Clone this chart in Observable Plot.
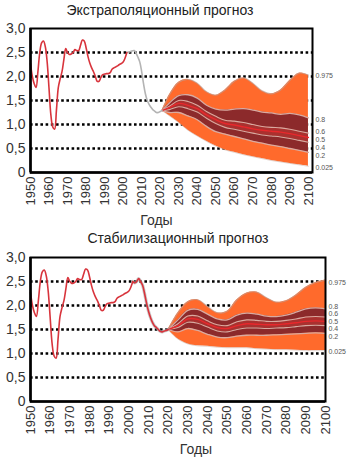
<!DOCTYPE html>
<html><head><meta charset="utf-8">
<script src="https://cdn.jsdelivr.net/npm/d3@7"></script>
<script src="https://cdn.jsdelivr.net/npm/@observablehq/plot@0.6"></script>
<style>
body{margin:0;background:#fff;width:350px;font-family:"Liberation Sans",Arial,sans-serif;}
.t{font-size:14px;color:#222;height:20px;line-height:20px;text-align:center;white-space:nowrap;}
svg{display:block;}
</style></head><body>
<div class="t" style="width:320px">Экстраполяционный прогноз</div>
<div id="c1"></div>
<div class="t" style="width:344px;margin-left:6px">Стабилизационный прогноз</div>
<div id="c2"></div>
<script>
// ---- data ----
const histYears = [1950,1951,1952,1953,1954,1955,1956,1957,1958,1959,1960,1961,1962,1963,1964,1965,1966,1967,1968,1969,1970,1971,1972,1973,1974,1975,1976,1977,1978,1979,1980,1981,1982,1983,1984,1985,1986,1987,1988,1989,1990,1991,1992,1993,1994,1995,1996,1997,1998,1999,2000,2001,2002];
const histTFR = [2.27,2.0,1.85,1.77,2.1,2.5,2.7,2.74,2.62,2.3,1.75,1.2,0.95,0.9,1.3,1.77,1.95,2.1,2.35,2.58,2.5,2.46,2.47,2.5,2.56,2.54,2.54,2.65,2.76,2.74,2.6,2.42,2.28,2.18,2.1,2.0,1.9,1.9,1.98,2.04,2.05,2.06,2.06,2.08,2.15,2.18,2.2,2.22,2.25,2.27,2.3,2.38,2.5];

// top chart: grey estimate bridge
const bridgeYears = [2002,2004,2006,2007,2008,2009,2010,2011,2012,2013,2014,2015,2016,2017,2018,2019,2020,2021];
const bridgeTFR = [2.5,2.52,2.54,2.48,2.4,2.3,2.1,1.85,1.64,1.5,1.42,1.36,1.31,1.28,1.25,1.25,1.27,1.29];

// bottom chart: red continuation
const tailYears = [2002,2003,2004,2005,2006,2007,2008,2009,2010,2011,2012,2013,2014,2015,2016,2017,2018,2019,2020];
const tailTFR = [2.5,2.47,2.5,2.56,2.5,2.42,2.25,2.05,1.88,1.75,1.65,1.58,1.54,1.5,1.46,1.45,1.47,1.48,1.5];

// top fan (extrapolation)
const fanYearsTop = [2021,2025,2030,2035,2040,2045,2050,2055,2060,2065,2070,2075,2080,2085,2090,2095,2100];
const top975 = [1.29,1.62,1.88,1.94,1.86,1.68,1.61,1.72,1.9,1.97,1.86,1.7,1.64,1.72,1.92,2.07,2.03];
const top80  = [1.29,1.45,1.6,1.62,1.55,1.4,1.32,1.3,1.32,1.33,1.3,1.26,1.24,1.21,1.23,1.2,1.14];
const top60  = [1.29,1.38,1.5,1.48,1.4,1.27,1.17,1.09,1.07,1.04,1.0,0.96,0.94,0.93,0.9,0.86,0.82];
const top50  = [1.29,1.35,1.44,1.4,1.33,1.2,1.1,1.02,0.99,0.95,0.91,0.88,0.86,0.84,0.81,0.77,0.73];
const top40  = [1.29,1.31,1.37,1.33,1.26,1.13,1.02,0.94,0.9,0.86,0.82,0.78,0.76,0.74,0.71,0.67,0.63];
const top20  = [1.29,1.25,1.25,1.18,1.1,0.96,0.85,0.8,0.75,0.7,0.65,0.61,0.57,0.54,0.5,0.46,0.42];
const top025 = [1.29,1.18,1.04,0.88,0.76,0.65,0.55,0.47,0.42,0.37,0.33,0.29,0.25,0.22,0.19,0.16,0.13];

// bottom fan (stabilization)
const fanYearsBot = [2020,2025,2030,2035,2040,2045,2050,2055,2060,2065,2070,2075,2080,2085,2090,2095,2100];
const bot975 = [1.5,1.85,2.08,2.12,1.98,1.85,1.88,2.12,2.26,2.28,2.16,2.07,2.1,2.22,2.38,2.48,2.53];
const bot80  = [1.5,1.7,1.9,1.92,1.82,1.72,1.7,1.8,1.84,1.82,1.78,1.77,1.8,1.86,1.93,1.95,1.93];
const bot60  = [1.5,1.62,1.78,1.78,1.68,1.6,1.58,1.66,1.7,1.69,1.67,1.67,1.69,1.72,1.76,1.77,1.76];
const bot50  = [1.5,1.58,1.72,1.71,1.62,1.54,1.52,1.58,1.62,1.61,1.6,1.6,1.62,1.64,1.67,1.68,1.67];
const bot40  = [1.5,1.54,1.65,1.63,1.55,1.47,1.45,1.5,1.53,1.53,1.52,1.53,1.54,1.56,1.58,1.59,1.58];
const bot20  = [1.5,1.45,1.52,1.48,1.4,1.34,1.33,1.36,1.38,1.38,1.38,1.39,1.4,1.41,1.42,1.43,1.42];
const bot025 = [1.5,1.3,1.2,1.16,1.15,1.13,1.12,1.12,1.12,1.1,1.09,1.08,1.08,1.07,1.06,1.06,1.06];

const quantLabels = ["0.975","0.8","0.6","0.5","0.4","0.2","0.025"];
const quantLabelTop = [2.02,1.1,0.84,0.69,0.52,0.34,0.1];
const quantLabelBot = [2.48,1.97,1.82,1.67,1.51,1.34,1.04];

const yTicks = [0,0.5,1,1.5,2,2.5,3];
const yTickLabels = ["0","0,5","1,0","1,5","2,0","2,5","3,0"];
const gridVals = [0.5,1,1.5,2,2.5];
const xTicks = [1950,1960,1970,1980,1990,2000,2010,2020,2030,2040,2050,2060,2070,2080,2090,2100];
const axisTitle = "Годы";

// ---- colours ----
const cOrange = "#ff6a2c", cDark = "#8c2a2b", cMid = "#a9312f", cLight = "#d9aaa0", cMed = "#e8282c", cHist = "#d8343c", cGrey = "#b4b4b4";

const toRows = (ys, vs) => ys.map((y, i) => ({year: y, v: vs[i]}));
function fanRows(ys, a975, a80, a60, a50, a40, a20, a025) {
  return ys.map((y, i) => ({year: y, q975: a975[i], q80: a80[i], q60: a60[i], q50: a50[i], q40: a40[i], q20: a20[i], q025: a025[i]}));
}

function chart({fan, labels, domainX, height, marginTop, marginRight, marginBottom, extraLines, titleDx}) {
  const curve = "catmull-rom";
  const labelRows = quantLabels.map((t, i) => ({t, v: labels[i]}));
  return Plot.plot({
    width: 350, height, marginTop, marginLeft: 30, marginRight, marginBottom,
    x: {domain: domainX, label: null},
    y: {domain: [0, 3], label: null},
    style: {fontFamily: "'Liberation Sans', Arial, sans-serif", background: "white", overflow: "visible"},
    marks: [
      Plot.ruleY(gridVals, {stroke: "black", strokeWidth: 2.6, strokeDasharray: "2.6,2.6"}),
      Plot.areaY(fan, {x: "year", y1: "q025", y2: "q975", fill: cOrange, curve}),
      Plot.line(fan, {x: "year", y: "q975", stroke: "#b9a39c", strokeWidth: 1.2, strokeOpacity: 0.6, curve}),
      Plot.line(fan, {x: "year", y: "q025", stroke: "#c7a79c", strokeWidth: 1, strokeOpacity: 0.5, curve}),
      Plot.areaY(fan, {x: "year", y1: "q20", y2: "q80", fill: cDark, curve}),
      Plot.areaY(fan, {x: "year", y1: "q40", y2: "q60", fill: cMid, curve}),
      Plot.line(fan, {x: "year", y: "q80", stroke: cLight, strokeWidth: 1.3, curve}),
      Plot.line(fan, {x: "year", y: "q60", stroke: cLight, strokeWidth: 1.1, curve}),
      Plot.line(fan, {x: "year", y: "q40", stroke: cLight, strokeWidth: 1.1, curve}),
      Plot.line(fan, {x: "year", y: "q20", stroke: cLight, strokeWidth: 1.3, curve}),
      Plot.line(fan, {x: "year", y: "q50", stroke: cMed, strokeWidth: 1.4, curve}),
      ...extraLines,
      Plot.frame({stroke: "black", strokeWidth: 2}),
      Plot.ruleX([domainX[0]], {stroke: "black", strokeWidth: 2.5}),
      Plot.ruleY([0], {stroke: "black", strokeWidth: 2.5}),
      Plot.axisY(yTicks, {tickSize: 0, tickPadding: 5, fontSize: 14, fill: "#333",
        tickFormat: d => yTickLabels[yTicks.indexOf(d)], label: null}),
      Plot.axisX(xTicks, {tickSize: 0, tickPadding: 4, tickRotate: -90, fontSize: 13, fill: "#333", label: null, tickFormat: d => String(d)}),
      Plot.text([axisTitle], {frameAnchor: "bottom", dy: 52, dx: titleDx, fontSize: 14, fill: "#333"}),
      Plot.text(labelRows, {y: "v", text: "t", frameAnchor: "right", textAnchor: "start", dx: 3, fontSize: 7, fill: "#555"})
    ]
  });
}

const fanTop = fanRows(fanYearsTop, top975, top80, top60, top50, top40, top20, top025);
const fanBot = fanRows(fanYearsBot, bot975, bot80, bot60, bot50, bot40, bot20, bot025);
const hist = toRows(histYears, histTFR);
const bridge = toRows(bridgeYears, bridgeTFR);
const tail = toRows(tailYears, tailTFR);

document.getElementById("c1").append(chart({
  fan: fanTop, labels: quantLabelTop, domainX: [1950, 2102.2], height: 208, marginTop: 8, marginRight: 38, marginBottom: 56, titleDx: -15,
  extraLines: [
    Plot.line(bridge, {x: "year", y: "v", stroke: cGrey, strokeWidth: 1.6, curve: "catmull-rom"}),
    Plot.line(hist, {x: "year", y: "v", stroke: cHist, strokeWidth: 1.6, curve: "catmull-rom"})
  ]
}));
document.getElementById("c2").append(chart({
  fan: fanBot, labels: quantLabelBot, domainX: [1950, 2100], height: 215, marginTop: 9, marginRight: 25, marginBottom: 62, titleDx: 18,
  extraLines: [
    Plot.line(tail, {x: "year", y: "v", stroke: "#aaa", strokeWidth: 3.2, strokeOpacity: 0.6, curve: "catmull-rom"}),
    Plot.line(hist, {x: "year", y: "v", stroke: cHist, strokeWidth: 1.6, curve: "catmull-rom"}),
    Plot.line(tail, {x: "year", y: "v", stroke: cHist, strokeWidth: 1.6, curve: "catmull-rom"})
  ]
}));
</script>
</body></html>
